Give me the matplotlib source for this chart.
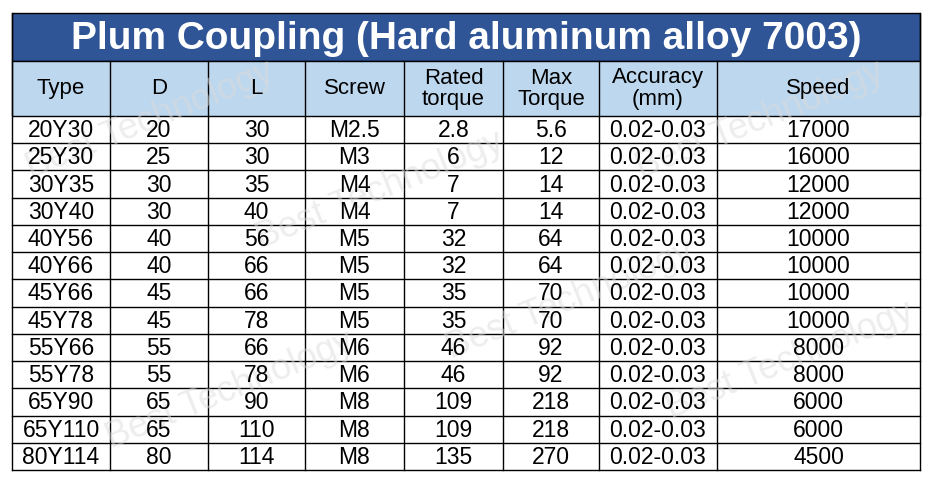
import matplotlib
matplotlib.use("Agg")
import matplotlib.pyplot as plt
from matplotlib.patches import Rectangle

title = "Plum Coupling (Hard aluminum alloy 7003)"
headers = ["Type", "D", "L", "Screw", "Rated\ntorque", "Max\nTorque", "Accuracy\n(mm)", "Speed"]
types = ["20Y30","25Y30","30Y35","30Y40","40Y56","40Y66","45Y66","45Y78","55Y66","55Y78","65Y90","65Y110","80Y114"]
D = [20,25,30,30,40,40,45,45,55,55,65,65,80]
L = [30,30,35,40,56,66,66,78,66,78,90,110,114]
screw = ["M2.5","M3","M4","M4","M5","M5","M5","M5","M6","M6","M8","M8","M8"]
rated = ["2.8","6","7","7","32","32","35","35","46","46","109","109","135"]
maxt = [5.6,12,14,14,64,64,70,70,92,92,218,218,270]
accuracy = ["0.02-0.03"]*13
speed = [17000,16000,12000,12000,10000,10000,10000,10000,8000,8000,6000,6000,4500]

W, H = 933, 482
fig = plt.figure(figsize=(W/100, H/100), dpi=100)
ax = fig.add_axes([0, 0, 1, 1])
ax.set_xlim(0, W); ax.set_ylim(H, 0); ax.axis("off")

cols = [12, 110, 208, 305, 404, 503, 599, 717, 920]
top, tb, hb = 13, 61, 116
rh = (470 - hb) / 13

# watermark
for (x, y) in [(150, 120), (380, 190), (570, 300), (230, 390), (760, 120), (790, 360)]:
    ax.text(x, y, "Best Technology", fontsize=26, color="#dcdcdc", rotation=22,
            ha="center", va="center", zorder=5, alpha=0.5, family="Liberation Sans")

ax.add_patch(Rectangle((cols[0], top), cols[-1]-cols[0], tb-top, fc="#2F5597", ec="black", lw=1, zorder=1))
ax.add_patch(Rectangle((cols[0], tb), cols[-1]-cols[0], hb-tb, fc="#BDD7EE", ec="black", lw=1, zorder=1))
ax.text((cols[0]+cols[-1])/2, (top+tb)/2+2, title, color="white", fontsize=28, fontweight="bold",
        ha="center", va="center", family="Liberation Sans", zorder=6)

for i, h in enumerate(headers):
    ax.text((cols[i]+cols[i+1])/2, (tb+hb)/2, h, fontsize=16, ha="center", va="center",
            family="Liberation Sans", linespacing=1.0, zorder=6)

rows = list(zip(types, D, L, screw, rated, maxt, accuracy, speed))
for r, row in enumerate(rows):
    y0 = hb + r*rh
    for i, v in enumerate(row):
        ax.text((cols[i]+cols[i+1])/2, y0+rh/2+1, str(v), fontsize=16.5, ha="center", va="center",
                family="Liberation Sans", zorder=6)
    ax.plot([cols[0], cols[-1]], [y0+rh, y0+rh], color="black", lw=1, zorder=3)

for x in cols:
    ax.plot([x, x], [tb if x not in (cols[0], cols[-1]) else top, 470], color="black", lw=1, zorder=3)

fig.savefig("out.png", dpi=100)
